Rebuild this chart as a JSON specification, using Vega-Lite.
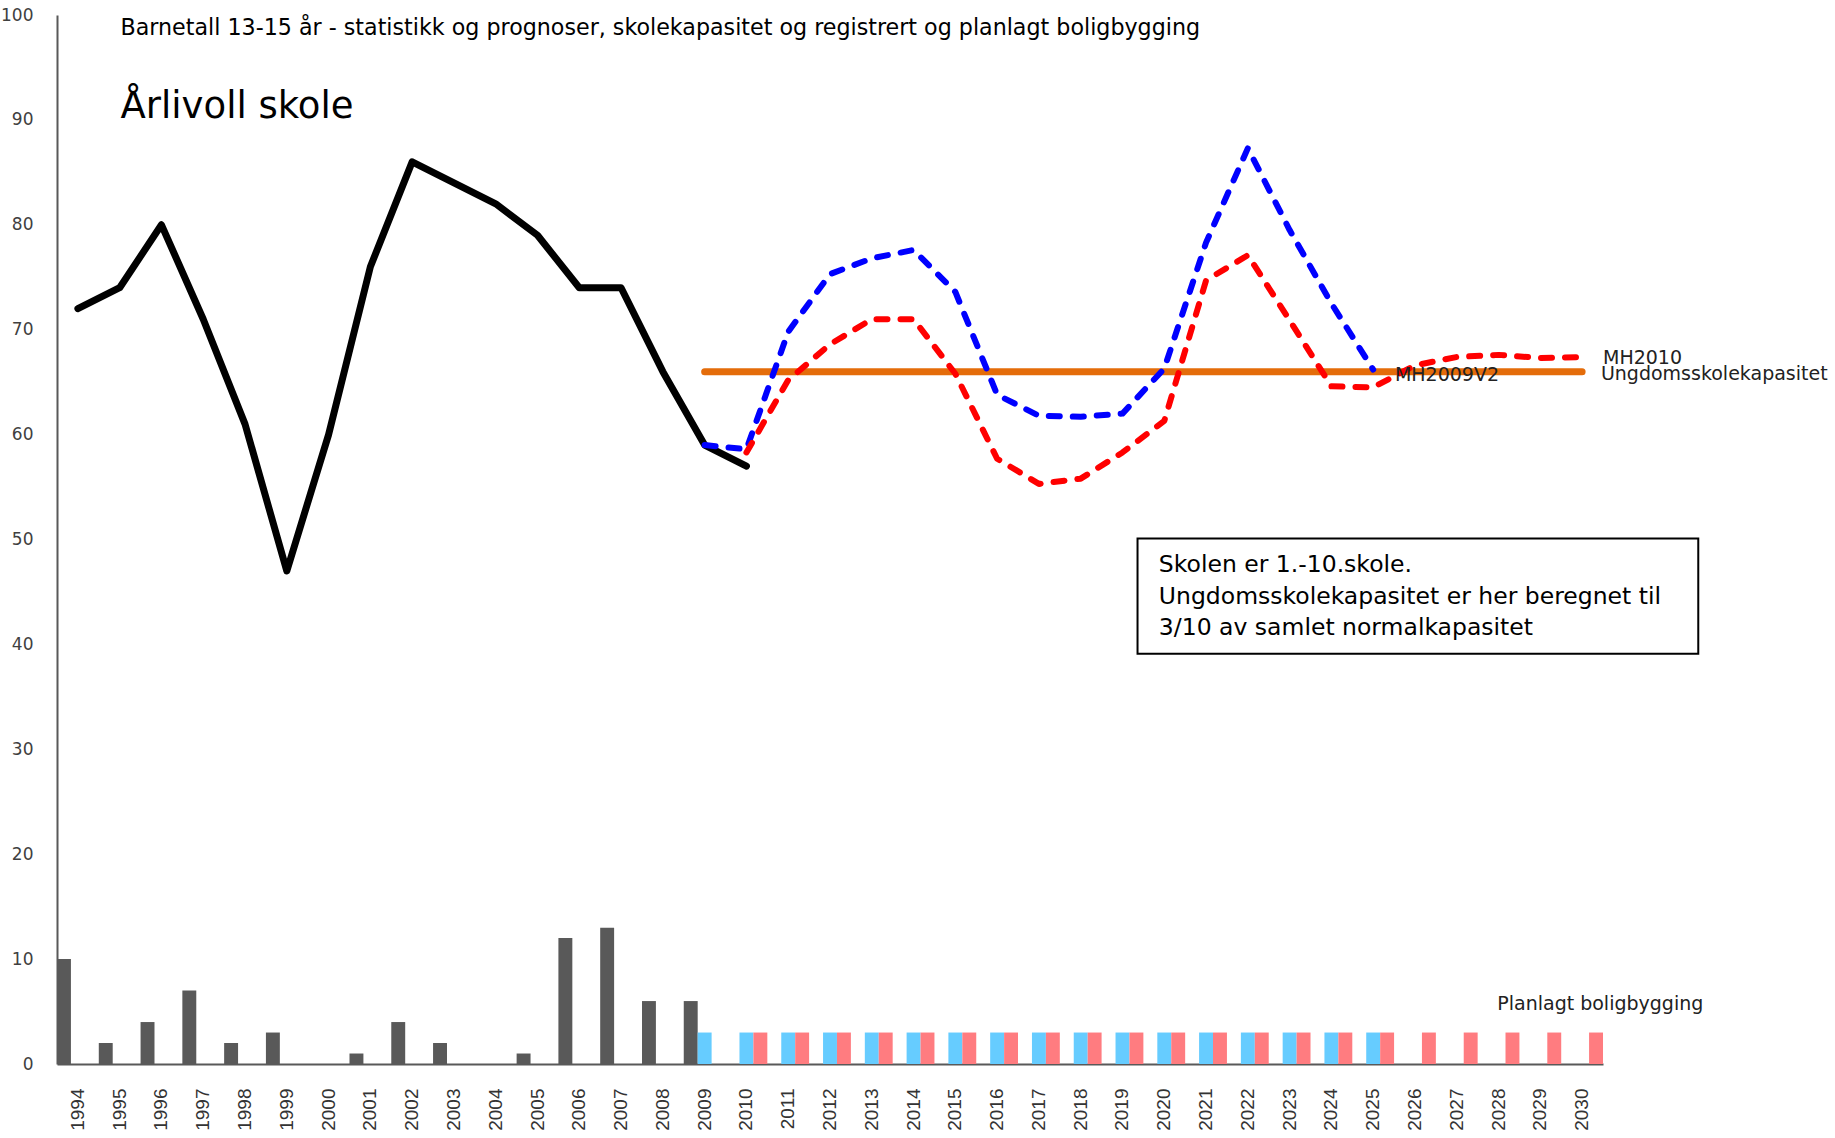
{
  "$schema": "https://vega.github.io/schema/vega-lite/v6.json",
  "autosize": "none",
  "width": 1546,
  "height": 1049,
  "padding": {"left": 57, "top": 15, "right": 232, "bottom": 74},
  "background": "white",
  "config": {"view": {"stroke": null}, "font": "DejaVu Sans"},
  "datasets": {
    "bars": [
      {"year": 1994, "series": "Registrert", "value": 10},
      {"year": 1995, "series": "Registrert", "value": 2},
      {"year": 1996, "series": "Registrert", "value": 4},
      {"year": 1997, "series": "Registrert", "value": 7},
      {"year": 1998, "series": "Registrert", "value": 2},
      {"year": 1999, "series": "Registrert", "value": 3},
      {"year": 2000, "series": "Registrert", "value": 0},
      {"year": 2001, "series": "Registrert", "value": 1},
      {"year": 2002, "series": "Registrert", "value": 4},
      {"year": 2003, "series": "Registrert", "value": 2},
      {"year": 2004, "series": "Registrert", "value": 0},
      {"year": 2005, "series": "Registrert", "value": 1},
      {"year": 2006, "series": "Registrert", "value": 12},
      {"year": 2007, "series": "Registrert", "value": 13},
      {"year": 2008, "series": "Registrert", "value": 6},
      {"year": 2009, "series": "Registrert", "value": 6},
      {"year": 2009, "series": "Planlagt MH2009V2", "value": 3},
      {"year": 2010, "series": "Planlagt MH2009V2", "value": 3},
      {"year": 2011, "series": "Planlagt MH2009V2", "value": 3},
      {"year": 2012, "series": "Planlagt MH2009V2", "value": 3},
      {"year": 2013, "series": "Planlagt MH2009V2", "value": 3},
      {"year": 2014, "series": "Planlagt MH2009V2", "value": 3},
      {"year": 2015, "series": "Planlagt MH2009V2", "value": 3},
      {"year": 2016, "series": "Planlagt MH2009V2", "value": 3},
      {"year": 2017, "series": "Planlagt MH2009V2", "value": 3},
      {"year": 2018, "series": "Planlagt MH2009V2", "value": 3},
      {"year": 2019, "series": "Planlagt MH2009V2", "value": 3},
      {"year": 2020, "series": "Planlagt MH2009V2", "value": 3},
      {"year": 2021, "series": "Planlagt MH2009V2", "value": 3},
      {"year": 2022, "series": "Planlagt MH2009V2", "value": 3},
      {"year": 2023, "series": "Planlagt MH2009V2", "value": 3},
      {"year": 2024, "series": "Planlagt MH2009V2", "value": 3},
      {"year": 2025, "series": "Planlagt MH2009V2", "value": 3},
      {"year": 2010, "series": "Planlagt MH2010", "value": 3},
      {"year": 2011, "series": "Planlagt MH2010", "value": 3},
      {"year": 2012, "series": "Planlagt MH2010", "value": 3},
      {"year": 2013, "series": "Planlagt MH2010", "value": 3},
      {"year": 2014, "series": "Planlagt MH2010", "value": 3},
      {"year": 2015, "series": "Planlagt MH2010", "value": 3},
      {"year": 2016, "series": "Planlagt MH2010", "value": 3},
      {"year": 2017, "series": "Planlagt MH2010", "value": 3},
      {"year": 2018, "series": "Planlagt MH2010", "value": 3},
      {"year": 2019, "series": "Planlagt MH2010", "value": 3},
      {"year": 2020, "series": "Planlagt MH2010", "value": 3},
      {"year": 2021, "series": "Planlagt MH2010", "value": 3},
      {"year": 2022, "series": "Planlagt MH2010", "value": 3},
      {"year": 2023, "series": "Planlagt MH2010", "value": 3},
      {"year": 2024, "series": "Planlagt MH2010", "value": 3},
      {"year": 2025, "series": "Planlagt MH2010", "value": 3},
      {"year": 2026, "series": "Planlagt MH2010", "value": 3},
      {"year": 2027, "series": "Planlagt MH2010", "value": 3},
      {"year": 2028, "series": "Planlagt MH2010", "value": 3},
      {"year": 2029, "series": "Planlagt MH2010", "value": 3},
      {"year": 2030, "series": "Planlagt MH2010", "value": 3}
    ],
    "lines": [
      {"year": 1994, "series": "Statistikk", "value": 72},
      {"year": 1995, "series": "Statistikk", "value": 74},
      {"year": 1996, "series": "Statistikk", "value": 80},
      {"year": 1997, "series": "Statistikk", "value": 71},
      {"year": 1998, "series": "Statistikk", "value": 61},
      {"year": 1999, "series": "Statistikk", "value": 47},
      {"year": 2000, "series": "Statistikk", "value": 60},
      {"year": 2001, "series": "Statistikk", "value": 76},
      {"year": 2002, "series": "Statistikk", "value": 86},
      {"year": 2003, "series": "Statistikk", "value": 84},
      {"year": 2004, "series": "Statistikk", "value": 82},
      {"year": 2005, "series": "Statistikk", "value": 79},
      {"year": 2006, "series": "Statistikk", "value": 74},
      {"year": 2007, "series": "Statistikk", "value": 74},
      {"year": 2008, "series": "Statistikk", "value": 66},
      {"year": 2009, "series": "Statistikk", "value": 59},
      {"year": 2010, "series": "Statistikk", "value": 57},
      {"year": 2009, "series": "MH2009V2", "value": 59},
      {"year": 2010, "series": "MH2009V2", "value": 58.6},
      {"year": 2011, "series": "MH2009V2", "value": 69.8},
      {"year": 2012, "series": "MH2009V2", "value": 75.3},
      {"year": 2013, "series": "MH2009V2", "value": 76.8},
      {"year": 2014, "series": "MH2009V2", "value": 77.6},
      {"year": 2015, "series": "MH2009V2", "value": 73.6},
      {"year": 2016, "series": "MH2009V2", "value": 63.8},
      {"year": 2017, "series": "MH2009V2", "value": 61.8},
      {"year": 2018, "series": "MH2009V2", "value": 61.7},
      {"year": 2019, "series": "MH2009V2", "value": 62.0},
      {"year": 2020, "series": "MH2009V2", "value": 66.3},
      {"year": 2021, "series": "MH2009V2", "value": 78.3},
      {"year": 2022, "series": "MH2009V2", "value": 87.3},
      {"year": 2023, "series": "MH2009V2", "value": 79.5},
      {"year": 2024, "series": "MH2009V2", "value": 72.5},
      {"year": 2025, "series": "MH2009V2", "value": 66.2},
      {"year": 2010, "series": "MH2010", "value": 58.3},
      {"year": 2011, "series": "MH2010", "value": 65.2},
      {"year": 2012, "series": "MH2010", "value": 68.6},
      {"year": 2013, "series": "MH2010", "value": 71.0},
      {"year": 2014, "series": "MH2010", "value": 71.0},
      {"year": 2015, "series": "MH2010", "value": 65.8},
      {"year": 2016, "series": "MH2010", "value": 57.7},
      {"year": 2017, "series": "MH2010", "value": 55.3},
      {"year": 2018, "series": "MH2010", "value": 55.8},
      {"year": 2019, "series": "MH2010", "value": 58.3},
      {"year": 2020, "series": "MH2010", "value": 61.3},
      {"year": 2021, "series": "MH2010", "value": 74.7},
      {"year": 2022, "series": "MH2010", "value": 77.1},
      {"year": 2023, "series": "MH2010", "value": 70.9},
      {"year": 2024, "series": "MH2010", "value": 64.6},
      {"year": 2025, "series": "MH2010", "value": 64.5},
      {"year": 2026, "series": "MH2010", "value": 66.6},
      {"year": 2027, "series": "MH2010", "value": 67.4},
      {"year": 2028, "series": "MH2010", "value": 67.6},
      {"year": 2029, "series": "MH2010", "value": 67.3},
      {"year": 2030, "series": "MH2010", "value": 67.4},
      {"year": 2009, "series": "Ungdomsskolekapasitet", "value": 66},
      {"year": 2010, "series": "Ungdomsskolekapasitet", "value": 66},
      {"year": 2015, "series": "Ungdomsskolekapasitet", "value": 66},
      {"year": 2020, "series": "Ungdomsskolekapasitet", "value": 66},
      {"year": 2025, "series": "Ungdomsskolekapasitet", "value": 66},
      {"year": 2030, "series": "Ungdomsskolekapasitet", "value": 66}
    ]
  },
  "resolve": {"scale": {"x": "independent"}, "axis": {"x": "independent", "y": "independent"}},
  "layer": [
    {
      "encoding": {
        "x": {
          "field": "year", "type": "ordinal",
          "scale": {"paddingInner": 0, "paddingOuter": 0},
          "axis": {
            "title": null, "labelAngle": 270, "labelFont": "Liberation Sans", "labelFontSize": 19,
            "labelColor": "#333333", "ticks": false, "labelPadding": 24,
            "domainColor": "#595959", "domainWidth": 2, "grid": false
          }
        },
        "y": {
          "field": "value", "type": "quantitative",
          "scale": {"domain": [0, 100], "nice": false, "zero": true},
          "axis": {
            "title": null, "values": [0, 10, 20, 30, 40, 50, 60, 70, 80, 90, 100],
            "labelFont": "DejaVu Sans", "labelFontSize": 17, "labelColor": "#404040",
            "ticks": false, "labelPadding": 24, "domainColor": "#595959", "domainWidth": 2, "grid": false
          }
        }
      },
      "layer": [
        {
          "data": {"name": "bars"},
          "mark": {"type": "bar"},
          "encoding": {
            "xOffset": {"field": "series", "type": "nominal",
              "scale": {"domain": ["Registrert", "Planlagt MH2009V2", "Planlagt MH2010"], "paddingInner": 0, "paddingOuter": 0}},
            "color": {"field": "series", "type": "nominal",
              "scale": {"domain": ["Registrert", "Planlagt MH2009V2", "Planlagt MH2010"], "range": ["#595959", "#66CCFF", "#FF7C80"]},
              "legend": null}
          }
        },
        {
          "data": {"name": "lines"},
          "transform": [{"filter": "datum.series === 'Ungdomsskolekapasitet'"}],
          "mark": {"type": "line", "color": "#E46C0A", "strokeWidth": 7, "strokeCap": "round"},
          "encoding": {"x": {"field": "year", "type": "ordinal", "bandPosition": 0.5}}
        },
        {
          "data": {"name": "lines"},
          "transform": [{"filter": "datum.series === 'Statistikk'"}],
          "mark": {"type": "line", "color": "#000000", "strokeWidth": 7, "strokeCap": "round", "strokeJoin": "round"},
          "encoding": {"x": {"field": "year", "type": "ordinal", "bandPosition": 0.5}}
        },
        {
          "data": {"name": "lines"},
          "transform": [{"filter": "datum.series === 'MH2009V2'"}],
          "mark": {"type": "line", "color": "#0000FF", "strokeWidth": 6, "strokeCap": "round", "strokeJoin": "round", "strokeDash": [11, 13]},
          "encoding": {"x": {"field": "year", "type": "ordinal", "bandPosition": 0.5}}
        },
        {
          "data": {"name": "lines"},
          "transform": [{"filter": "datum.series === 'MH2010'"}],
          "mark": {"type": "line", "color": "#FF0000", "strokeWidth": 6, "strokeCap": "round", "strokeJoin": "round", "strokeDash": [11, 13]},
          "encoding": {"x": {"field": "year", "type": "ordinal", "bandPosition": 0.5}}
        }
      ]
    },
    {
      "data": {"values": [{}]},
      "layer": [
        {
          "mark": {"type": "rect", "fill": "white", "stroke": "#000000", "strokeWidth": 2},
          "encoding": {
            "x": {"datum": 2019.36, "type": "quantitative", "scale": {"domain": [1993.5, 2030.5], "nice": false, "zero": false}, "axis": null},
            "x2": {"datum": 2032.78},
            "y": {"datum": 50.1, "type": "quantitative", "axis": null},
            "y2": {"datum": 39.1}
          }
        },
        {
          "mark": {"type": "text", "text": "Barnetall 13-15 år - statistikk og prognoser, skolekapasitet og registrert og planlagt boligbygging", "align": "left", "baseline": "middle", "font": "DejaVu Sans", "fontSize": 22.2, "color": "#000000"},
          "encoding": {
            "x": {"datum": 1995.02, "type": "quantitative", "scale": {"domain": [1993.5, 2030.5], "nice": false, "zero": false}, "axis": null},
            "y": {"datum": 98.8, "type": "quantitative", "axis": null}
          }
        },
        {
          "mark": {"type": "text", "text": "Årlivoll skole", "align": "left", "baseline": "middle", "font": "DejaVu Sans", "fontSize": 37, "color": "#000000"},
          "encoding": {
            "x": {"datum": 1995.02, "type": "quantitative", "axis": null},
            "y": {"datum": 91.2, "type": "quantitative", "axis": null}
          }
        },
        {
          "mark": {"type": "text", "text": "Skolen er 1.-10.skole.", "align": "left", "baseline": "middle", "font": "DejaVu Sans", "fontSize": 23.5, "color": "#000000"},
          "encoding": {
            "x": {"datum": 2019.87, "type": "quantitative", "axis": null},
            "y": {"datum": 47.6, "type": "quantitative", "axis": null}
          }
        },
        {
          "mark": {"type": "text", "text": "Ungdomsskolekapasitet  er her beregnet til", "align": "left", "baseline": "middle", "font": "DejaVu Sans", "fontSize": 23.5, "color": "#000000"},
          "encoding": {
            "x": {"datum": 2019.87, "type": "quantitative", "axis": null},
            "y": {"datum": 44.5, "type": "quantitative", "axis": null}
          }
        },
        {
          "mark": {"type": "text", "text": "3/10 av samlet normalkapasitet", "align": "left", "baseline": "middle", "font": "DejaVu Sans", "fontSize": 23.5, "color": "#000000"},
          "encoding": {
            "x": {"datum": 2019.87, "type": "quantitative", "axis": null},
            "y": {"datum": 41.6, "type": "quantitative", "axis": null}
          }
        },
        {
          "mark": {"type": "text", "text": "MH2010", "align": "left", "baseline": "middle", "font": "DejaVu Sans", "fontSize": 19, "color": "#222222"},
          "encoding": {
            "x": {"datum": 2030.5, "type": "quantitative", "axis": null},
            "y": {"datum": 67.3, "type": "quantitative", "axis": null}
          }
        },
        {
          "mark": {"type": "text", "text": "Ungdomsskolekapasitet", "align": "left", "baseline": "middle", "font": "DejaVu Sans", "fontSize": 19, "color": "#222222"},
          "encoding": {
            "x": {"datum": 2030.45, "type": "quantitative", "axis": null},
            "y": {"datum": 65.8, "type": "quantitative", "axis": null}
          }
        },
        {
          "mark": {"type": "text", "text": "MH2009V2", "align": "left", "baseline": "middle", "font": "DejaVu Sans", "fontSize": 19, "color": "#222222"},
          "encoding": {
            "x": {"datum": 2025.52, "type": "quantitative", "axis": null},
            "y": {"datum": 65.7, "type": "quantitative", "axis": null}
          }
        },
        {
          "mark": {"type": "text", "text": "Planlagt boligbygging", "align": "left", "baseline": "middle", "font": "DejaVu Sans", "fontSize": 19, "color": "#222222"},
          "encoding": {
            "x": {"datum": 2027.97, "type": "quantitative", "axis": null},
            "y": {"datum": 5.7, "type": "quantitative", "axis": null}
          }
        }
      ]
    }
  ]
}
